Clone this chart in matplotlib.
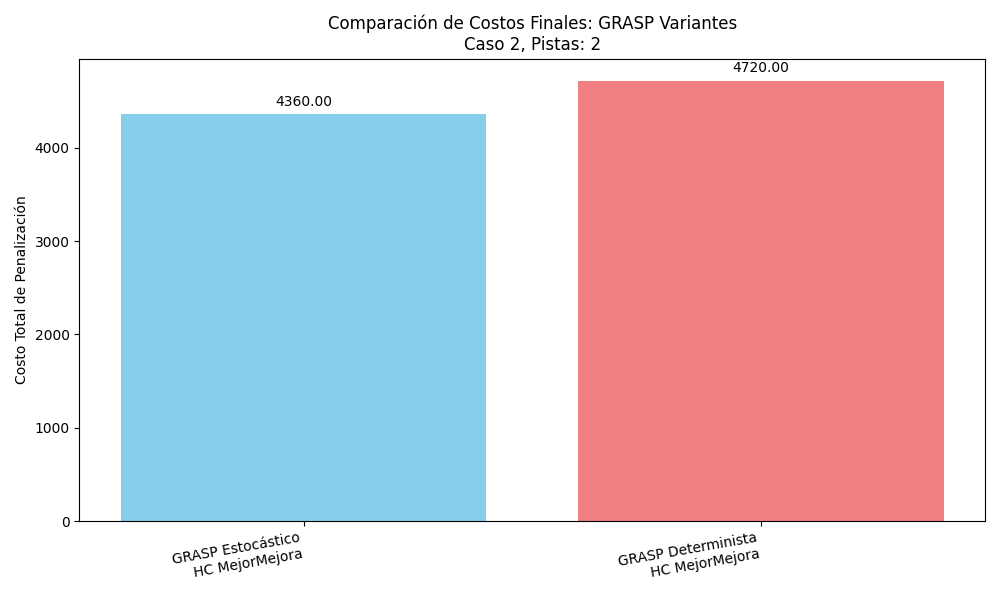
import matplotlib.pyplot as plt

labels = ["GRASP Estocástico\nHC MejorMejora", "GRASP Determinista\nHC MejorMejora"]
costs = [4360.00, 4720.00]
colors = ["skyblue", "lightcoral"]

fig, ax = plt.subplots(figsize=(10, 6))
bars = ax.bar(labels, costs, color=colors)
for b, v in zip(bars, costs):
    ax.annotate(f"{v:.2f}", (b.get_x() + b.get_width() / 2, v),
                xytext=(0, 4), textcoords="offset points", ha="center", va="bottom")
ax.set_title("Comparación de Costos Finales: GRASP Variantes\nCaso 2, Pistas: 2")
ax.set_ylabel("Costo Total de Penalización")
plt.xticks(rotation=10, ha="right")
plt.tight_layout()
plt.savefig("out.png")
